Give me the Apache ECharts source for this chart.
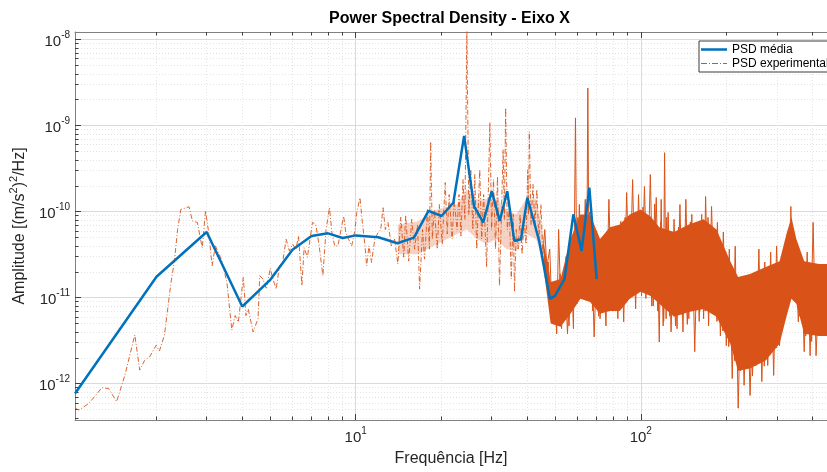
<!DOCTYPE html>
<html><head><meta charset="utf-8">
<script src="https://cdn.jsdelivr.net/npm/echarts@6/dist/echarts.min.js"></script>
<style>html,body{margin:0;padding:0;background:#fff;}#c{width:827px;height:472px;}</style>
</head><body><div id="c"></div>
<script>
const FONT = 'Liberation Sans, Arial, sans-serif';
const titleText = 'Power Spectral Density - Eixo X';
const xName = 'Frequência [Hz]';
const yName = '{n|Amplitude [(m/s}{s|2}{n|)}{s|2}{n|/Hz]}';
const legendNames = ['PSD média', 'PSD experimental'];
const xRange = [1.036, 450];
const yRange = [3.79e-13, 1.225e-8];
const xMajorTicks = [10, 100];
const xMinorTicks = [2,3,4,5,6,7,8,9,20,30,40,50,60,70,80,90,200,300,400];
const yMajorTicks = [1e-12,1e-11,1e-10,1e-9,1e-8];
const yMinorTicks = [4e-13,5e-13,6e-13,7e-13,8e-13,9e-13,
  2e-12,3e-12,4e-12,5e-12,6e-12,7e-12,8e-12,9e-12,
  2e-11,3e-11,4e-11,5e-11,6e-11,7e-11,8e-11,9e-11,
  2e-10,3e-10,4e-10,5e-10,6e-10,7e-10,8e-10,9e-10,
  2e-9,3e-9,4e-9,5e-9,6e-9,7e-9,8e-9,9e-9];

// PSD média [Hz, amplitude]
const psdMedia = [[1.036,7.7e-13],[2,1.75e-11],[3,5.8e-11],[4,7.9e-12],[5,1.6e-11],[6,3.6e-11],[7,5.2e-11],[8,5.6e-11],[9,4.95e-11],[10,5.3e-11],[12,5.05e-11],[14,4.3e-11],[16,5.0e-11],[18,1.02e-10],[20,8.9e-11],[22,1.27e-10],[24,7.6e-10],[26,1.16e-10],[28,7.5e-11],[30,1.73e-10],[32,7.8e-11],[34,1.73e-10],[36,4.57e-11],[38,4.79e-11],[40,1.45e-10],[42,8.1e-11],[44,4.57e-11],[48,9.7e-12],[50,1.05e-11],[54,1.65e-11],[58,9.3e-11],[62,3.5e-11],[66,1.9e-10],[70,1.65e-11],[75,2.35e-11],[88,4.4e-11],[100,4.0e-11],[125,2.8e-11],[138,2.15e-11],[160,3.0e-11],[180,3.3e-11],[200,2.0e-11],[225,6e-12],[250,7e-12],[280,7e-12],[320,2.0e-11],[340,3.0e-11],[380,1.0e-11],[450,1.0e-11]];

// PSD experimental, low band 1-14 Hz
const expLow = [[1.036,5.2e-13],[1.069,4.95e-13],[1.158,5.9e-13],[1.287,9.0e-13],[1.358,8.8e-13],[1.45,6.2e-13],[1.55,1.26e-12],[1.679,3.7e-12],[1.747,1.44e-12],[1.818,1.87e-12],[1.891,2.05e-12],[1.995,2.8e-12],[2.048,2.4e-12],[2.132,3.65e-12],[2.19,7.4e-12],[2.249,1.51e-11],[2.309,2.57e-11],[2.372,6.2e-11],[2.435,1.06e-10],[2.602,1.14e-10],[2.673,7.8e-11],[2.782,7.5e-11],[2.894,3.8e-11],[2.972,1.02e-10],[3.05,5.7e-11],[3.134,2.35e-11],[3.218,4.0e-11],[3.377,2.8e-11],[3.533,1.51e-11],[3.676,4.2e-12],[3.775,6.2e-12],[3.875,5.2e-12],[4.032,1.73e-11],[4.12,6.2e-12],[4.197,7.4e-12],[4.366,4.0e-12],[4.543,5.7e-12],[4.605,1.8e-11],[4.728,1.65e-11],[4.859,1.26e-11],[5.016,2.2e-11],[5.12,1.65e-11],[5.261,1.26e-11],[5.401,2.35e-11],[5.545,2.57e-11],[5.698,4.8e-11],[5.849,3.5e-11],[6.005,4.2e-11],[6.17,3.65e-11],[6.3,5.2e-11],[6.474,1.38e-11],[6.59,3.8e-11],[6.77,2.95e-11],[6.86,4.0e-11],[7.05,7.5e-11],[7.24,7.1e-11],[7.43,4.2e-11],[7.67,1.8e-11],[7.87,6.2e-11],[8.09,1.11e-10],[8.26,5.5e-11],[8.44,4.0e-11],[8.66,4.0e-11],[9.07,8.9e-11],[9.23,5.7e-11],[9.43,4.8e-11],[9.68,4.0e-11],[9.95,6.2e-11],[10.08,9.7e-11],[10.35,1.45e-10],[10.55,7.5e-11],[10.78,4.0e-11],[10.92,2.35e-11],[11.13,4.0e-11],[11.36,2.57e-11],[11.67,4.8e-11],[11.98,5.7e-11],[12.24,6.2e-11],[12.47,1.11e-10],[12.7,6.2e-11],[12.98,7.5e-11],[13.33,4.0e-11],[13.69,4.8e-11]];

// PSD experimental, mid band 14-45 Hz
const expMid = [[14.05,2.46e-11],[14.39,8.6e-11],[14.74,2.96e-11],[14.97,9.1e-11],[15.34,2.66e-11],[15.72,8.15e-11],[16.09,3.67e-11],[16.48,7.1e-11],[16.75,1.26e-11],[17.15,6.2e-11],[17.43,2.81e-11],[17.85,1.06e-10],[18.14,3.67e-11],[18.32,6.5e-10],[18.57,4.8e-11],[18.87,1.06e-10],[19.33,3.67e-11],[19.64,1.21e-10],[20.11,4.2e-11],[20.6,2.18e-10],[20.94,5.5e-11],[21.27,1.58e-10],[21.79,4.8e-11],[22.13,1.39e-10],[22.67,6.2e-11],[23.03,1.58e-10],[23.4,5.2e-11],[23.78,2.36e-10],[24.15,8.15e-11],[24.54,1.3e-8],[24.93,9.3e-11],[25.34,3.08e-10],[25.75,6.2e-11],[26.16,2.7e-10],[26.58,3.67e-11],[27.23,3.08e-10],[27.66,4.8e-11],[28.1,1.58e-10],[28.79,2.27e-11],[29.55,1.09e-9],[29.96,6.2e-11],[30.44,2.36e-10],[30.93,3.67e-11],[31.43,2.56e-10],[31.94,1.37e-11],[32.89,5.25e-10],[33.23,8.15e-11],[33.57,1.61e-9],[34.02,6.2e-11],[34.57,1.06e-10],[35.13,1.65e-11],[35.69,9.3e-11],[36.06,1.17e-11],[36.56,6.2e-11],[37.14,3.67e-11],[37.73,9.3e-11],[38.34,3.2e-11],[38.96,8.15e-11],[39.58,4.2e-11],[40.13,3.08e-10],[40.38,9.3e-11],[40.64,8.5e-10],[41.19,7.1e-11],[41.86,2.07e-10],[42.53,7.1e-11],[43.2,1.81e-10],[43.9,4.8e-11],[44.63,1.21e-10],[45.34,3.2e-11]];

// PSD experimental, high band 46-450 Hz (two interleaved sets of spike extremes)
const expHigh = [[45.34,3.2e-11],[46.05,6.2e-11],[46.8,2.27e-11],[47.93,3.67e-11],[48.9,5.7e-12],[49.7,1.44e-11],[50.7,3.8e-12],[51.49,6.2e-11],[52.72,4.36e-12],[54.0,2.15e-11],[55.33,3.8e-12],[56.67,4.8e-11],[58.04,4.36e-12],[59.0,1.23e-9],[59.7,8.5e-12],[60.87,1.21e-10],[62.35,1.11e-11],[63.86,1.39e-10],[64.6,1.44e-11],[65.2,2.73e-9],[65.9,9.7e-12],[66.99,5.5e-11],[68.6,3.5e-12],[70.26,3.67e-11],[71.96,5.7e-12],[73.7,3.2e-11],[75.48,4.7e-12],[77.3,1.39e-10],[79.18,7.1e-12],[81.1,6.6e-11],[83.06,5.7e-12],[85.07,7.7e-11],[87.1,5.25e-12],[89.2,1.67e-10],[91.4,9.7e-12],[93.6,2.36e-10],[95.9,7.4e-12],[98.2,1.58e-10],[100.6,1.05e-11],[103.0,1.96e-10],[105.5,1.19e-11],[108.0,2.7e-10],[110.6,8.0e-12],[113.3,1.46e-10],[116.1,3.05e-12],[117.9,1.39e-10],[119.8,4.7e-12],[121.2,4.85e-10],[122.7,5.7e-12],[124.7,9.8e-11],[127.7,4.0e-12],[130.8,8.15e-11],[134.0,4.36e-12],[137.2,1.21e-10],[140.6,4.0e-12],[143.9,1.39e-10],[147.4,5.7e-12],[151.0,9.3e-11],[154.6,2.36e-12],[158.4,7.1e-11],[160.9,6.8e-12],[163.5,9.3e-11],[166.1,5.7e-12],[168.8,1.5e-10],[172.9,4.7e-12],[177.1,1.15e-10],[181.3,8.0e-12],[185.7,7.5e-11],[190.2,3.6e-12],[194.8,5.8e-11],[199.5,2.77e-12],[204.4,3.67e-11],[209.3,1.15e-12],[214.4,3.97e-11],[219.6,5.2e-13],[224.9,1.44e-11],[230.4,9.6e-13],[236.0,1.52e-11],[241.7,7.3e-13],[247.5,1.11e-11],[253.5,1.63e-12],[259.6,3.67e-11],[265.8,1.06e-12],[272.2,2.6e-11],[278.8,1.63e-12],[285.5,3.39e-11],[292.5,1.25e-12],[299.5,3.97e-11],[306.7,2.77e-12],[314.1,1.65e-11],[321.7,5.7e-12],[329.6,3.97e-11],[333.6,9.7e-12],[336.0,1.15e-10],[340.2,1.26e-11],[348.4,3.97e-11],[356.9,5.25e-12],[365.5,2.33e-11],[374.4,2.36e-12],[383.4,3.39e-11],[392.7,2.12e-12],[402.2,7.5e-11],[411.9,2.12e-12],[422,1.38e-11],[432,4e-12],[450,2e-11]];
const expHighB = [[46.25,2.0e-11],[47.36,2.6e-11],[48.5,6.1e-12],[49.68,1.35e-11],[50.88,4.9e-12],[52.1,1.9e-11],[53.35,7.0e-12],[54.65,3.0e-11],[56.0,4.7e-12],[57.35,3.9e-11],[58.74,8.0e-12],[60.14,8.6e-11],[61.6,1.04e-11],[63.1,6.6e-11],[64.6,1.2e-11],[66.2,9.9e-11],[67.8,7.0e-12],[69.4,4.4e-11],[71.1,6.1e-12],[72.8,3.4e-11],[74.6,7.6e-12],[76.4,5.5e-11],[78.2,9.1e-12],[80.1,6.1e-11],[82.1,7.0e-12],[84.1,6.6e-11],[86.1,8.4e-12],[88.1,8.6e-11],[90.3,9.8e-12],[92.5,7.1e-11],[94.7,1.2e-11],[97.1,9.9e-11],[99.4,1.36e-11],[101.8,1.13e-10],[104.2,9.8e-12],[106.8,8.6e-11],[109.3,8.0e-12],[111.9,1.23e-10],[114.7,7.0e-12],[117.5,7.6e-11],[120.3,5.3e-12],[123.3,8.6e-11],[126.2,6.1e-12],[129.2,5.1e-11],[132.4,4.7e-12],[135.6,6.6e-11],[138.8,6.4e-12],[142.3,4.4e-11],[145.6,4.9e-12],[149.2,7.6e-11],[152.8,8.4e-12],[156.5,5.8e-11],[160.3,5.3e-12],[164.1,7.1e-11],[168.1,7.0e-12],[172.1,8.6e-11],[176.4,8.4e-12],[180.6,5.1e-11],[185.0,5.3e-12],[189.4,4.4e-11],[194.0,4.1e-12],[198.8,3.0e-11],[203.5,2.7e-12],[208.5,2.3e-11],[213.5,1.85e-12],[218.7,1.54e-11],[224.0,1.41e-12],[229.3,1.03e-11],[234.9,1.7e-12],[240.6,9.0e-12],[246.4,1.23e-12],[252.4,1.18e-11],[258.5,2.0e-12],[264.7,2.1e-11],[271.1,1.6e-12],[277.7,1.76e-11],[284.4,2.2e-12],[291.3,2.0e-11],[298.3,2.6e-12],[305.5,1.9e-11],[312.9,4.1e-12],[320.5,2.6e-11],[328.2,8.4e-12],[336.2,7.1e-11],[344.3,1.2e-11],[352.6,3.9e-11],[361.2,6.1e-12],[369.9,2.3e-11],[378.9,3.6e-12],[388.0,1.9e-11],[397.4,3.1e-12],[407.0,2.1e-11],[416.8,3.6e-12]];

// envelopes of the densely filled parts of the experimental curve
const bandMidFreq = [14.05,16.48,19.33,22.67,24.54,26.58,28.79,31.18,33.76,36.56,39.58,42.87,45.7,48.3];
const bandMidLow  = [3.2e-11,3.2e-11,4.2e-11,5.5e-11,6.2e-11,4.8e-11,4.2e-11,4.8e-11,3.67e-11,3.5e-11,5.5e-11,4.8e-11,2.66e-11,5.7e-12];
const bandMidHigh = [7.1e-11,7.7e-11,1.06e-10,1.21e-10,1.81e-10,1.39e-10,1.39e-10,1.39e-10,1.06e-10,9.3e-11,1.39e-10,1.39e-10,4.8e-11,1.26e-11];
const bandDenseFreq = [45.7,48.3,52.3,56.67,61.4,66.4,71.96,77.9,84.4,91.4,99.9,108.2,116.1,130.8,147.4,166.1,184.3,206.0,219.5,241.5,274.4,306.8,324.3,337.6,351.3,374.4,422,450];
const bandDenseLow  = [2.04e-11,5.0e-12,4.6e-12,6.5e-12,9.7e-12,8.9e-12,6.5e-12,7.0e-12,7.0e-12,9.7e-12,1.17e-11,1.05e-11,8.5e-12,6.0e-12,6.8e-12,7.4e-12,6.0e-12,2.92e-12,1.42e-12,1.5e-12,1.86e-12,2.92e-12,6.0e-12,9.7e-12,8.5e-12,3.8e-12,3.6e-12,3.6e-12];
const bandDenseHigh = [4.2e-11,1.52e-11,1.65e-11,4.8e-11,9.3e-11,9.3e-11,4.8e-11,6.6e-11,7.1e-11,9.3e-11,1.06e-10,8.8e-11,6.6e-11,5.8e-11,7.1e-11,8.15e-11,6.2e-11,2.66e-11,1.74e-11,1.88e-11,2.27e-11,2.66e-11,5.5e-11,8.6e-11,4.8e-11,2.66e-11,2.46e-11,2.46e-11];

const BLUE = '#0072BD', ORANGE = '#D95319';
const TXT = '#262626';
const BLUE_TOP_LIMIT = 70; // Hz: above this the mean curve lies under the dense spectrum

function powLabel(v) {
  const e = Math.round(Math.log10(v));
  return '{b|10}{s|' + e + '}';
}
const richTick = {
  b: { fontSize: 15, color: TXT, fontFamily: FONT, lineHeight: 19, verticalAlign: 'bottom' },
  s: { fontSize: 10, color: TXT, fontFamily: FONT, lineHeight: 10, verticalAlign: 'top' }
};

function bandSeries(freq, low, high, fill, z) {
  return {
    type: 'custom', xAxisIndex: 0, yAxisIndex: 0, silent: true, z: z, clip: true,
    data: freq.map((f, i) => [f, low[i], high[i]]),
    encode: { x: 0, y: [1, 2] },
    renderItem: function (params, api) {
      if (params.dataIndex !== 0) return null;
      const top = [], bot = [];
      for (let i = 0; i < freq.length; i++) {
        top.push(api.coord([freq[i], high[i]]));
        bot.push(api.coord([freq[i], low[i]]));
      }
      return { type: 'polygon', shape: { points: top.concat(bot.reverse()) }, style: { fill: fill } };
    }
  };
}

function xAx(pos, ticks, len, labels, split, lineShow) {
  return {
    type: 'log', logBase: 10, min: xRange[0], max: xRange[1], position: pos, gridIndex: 0,
    axisLine: { show: lineShow, onZero: false, lineStyle: { color: '#808080', width: 1 } },
    axisTick: { show: true, inside: true, length: len, customValues: ticks, lineStyle: { color: '#404040', width: 1 } },
    axisLabel: labels ? { show: true, customValues: ticks, formatter: powLabel, margin: 6, rich: richTick } : { show: false },
    splitLine: split || { show: false },
    minorTick: { show: false }, minorSplitLine: { show: false }
  };
}
function yAx(ticks, len, labels, split, lineShow) {
  return {
    type: 'log', logBase: 10, min: yRange[0], max: yRange[1], position: 'left', gridIndex: 0,
    axisLine: { show: lineShow, onZero: false, lineStyle: { color: '#808080', width: 1 } },
    axisTick: { show: true, inside: true, length: len, customValues: ticks, lineStyle: { color: '#404040', width: 1 } },
    axisLabel: labels ? { show: true, customValues: ticks, formatter: powLabel, margin: 5, rich: richTick } : { show: false },
    splitLine: split || { show: false },
    minorTick: { show: false }, minorSplitLine: { show: false }
  };
}
const majorSplit = { show: true, lineStyle: { color: '#dadada', width: 1, type: 'solid' } };
const minorSplit = { show: true, lineStyle: { color: '#e4e4e4', width: 1, type: [1, 2] } };

const xMain = xAx('bottom', xMajorTicks, 6, true, majorSplit, true);
xMain.name = xName; xMain.nameLocation = 'middle'; xMain.nameGap = 31;
xMain.nameTextStyle = { fontSize: 16, color: TXT, fontFamily: FONT };
const yMain = yAx(yMajorTicks, 6, true, majorSplit, true);
yMain.name = yName; yMain.nameLocation = 'middle'; yMain.nameGap = 45;
yMain.nameTextStyle = {
  color: TXT, fontFamily: FONT, fontSize: 16,
  rich: {
    n: { fontSize: 16, color: TXT, fontFamily: FONT, lineHeight: 20, verticalAlign: 'bottom' },
    s: { fontSize: 11, color: TXT, fontFamily: FONT, lineHeight: 10, verticalAlign: 'top' }
  }
};

const midFill = 'rgba(217,83,25,0.26)';
const denseFill = 'rgb(217,83,25)';

const iconBlue = 'path://M0,0h0.1v0.1h-0.1zM0,3.7h26v2.6h-26zM25.9,9.9h0.1v0.1h-0.1z';
const iconOrange = 'path://M0,0h0.1v0.1h-0.1zM0,4.5h6v1h-6zM8,4.5h1v1h-1zM11,4.5h6v1h-6zM19,4.5h1v1h-1zM22,4.5h4v1h-4zM25.9,9.9h0.1v0.1h-0.1z';

const highStyle = { color: ORANGE, width: 1.0 };
const blueStyle = { color: BLUE, width: 2.5 };

const option = {
  animation: false,
  backgroundColor: '#fff',
  title: {
    text: titleText, left: 329, top: 11, padding: 0,
    textStyle: { fontSize: 16, fontWeight: 'bold', color: '#000', fontFamily: FONT }
  },
  legend: {
    data: [{ name: legendNames[0], icon: iconBlue }, { name: legendNames[1], icon: iconOrange }],
    orient: 'vertical', left: 699, top: 41,
    itemWidth: 26, itemHeight: 10, itemGap: 1, padding: [2, 12, 2, 2],
    borderColor: '#3a3a3a', borderWidth: 1, backgroundColor: '#fff',
    textStyle: { fontSize: 12, color: '#000', fontFamily: FONT, lineHeight: 13 }
  },
  grid: { left: 73, top: 32, width: 762, height: 390, containLabel: false },
  xAxis: [
    xMain,
    xAx('bottom', xMinorTicks, 3.5, false, minorSplit, false),
    xAx('top', xMajorTicks, 6, false, null, true),
    xAx('top', xMinorTicks, 3.5, false, null, false)
  ],
  yAxis: [
    yMain,
    yAx(yMinorTicks, 3.5, false, minorSplit, false)
  ],
  series: [
    bandSeries(bandMidFreq, bandMidLow, bandMidHigh, midFill, 1),
    {
      name: legendNames[0], type: 'line', xAxisIndex: 0, yAxisIndex: 0,
      data: psdMedia.filter(p => p[0] >= BLUE_TOP_LIMIT),
      symbol: 'none', showSymbol: false, z: 2, clip: true,
      lineStyle: blueStyle, itemStyle: { color: BLUE }
    },
    bandSeries(bandDenseFreq, bandDenseLow, bandDenseHigh, denseFill, 3),
    {
      name: legendNames[1], type: 'line', xAxisIndex: 0, yAxisIndex: 0,
      data: expLow.concat(expMid),
      symbol: 'none', showSymbol: false, z: 4, clip: true,
      lineStyle: { color: ORANGE, width: 0.9, type: [5, 2, 1, 2] }, itemStyle: { color: ORANGE }
    },
    {
      name: legendNames[1], type: 'line', xAxisIndex: 0, yAxisIndex: 0,
      data: expHigh, symbol: 'none', showSymbol: false, z: 4, clip: true,
      lineStyle: highStyle, itemStyle: { color: ORANGE }
    },
    {
      name: legendNames[1], type: 'line', xAxisIndex: 0, yAxisIndex: 0,
      data: expHighB, symbol: 'none', showSymbol: false, z: 4, clip: true,
      lineStyle: highStyle, itemStyle: { color: ORANGE }
    },
    {
      name: legendNames[0], type: 'line', xAxisIndex: 0, yAxisIndex: 0,
      data: psdMedia.filter(p => p[0] <= BLUE_TOP_LIMIT),
      symbol: 'none', showSymbol: false, z: 5, clip: true,
      lineStyle: blueStyle, itemStyle: { color: BLUE }
    }
  ]
};
const chart = echarts.init(document.getElementById('c'), null, { renderer: 'canvas' });
chart.setOption(option);
</script>
</body></html>
